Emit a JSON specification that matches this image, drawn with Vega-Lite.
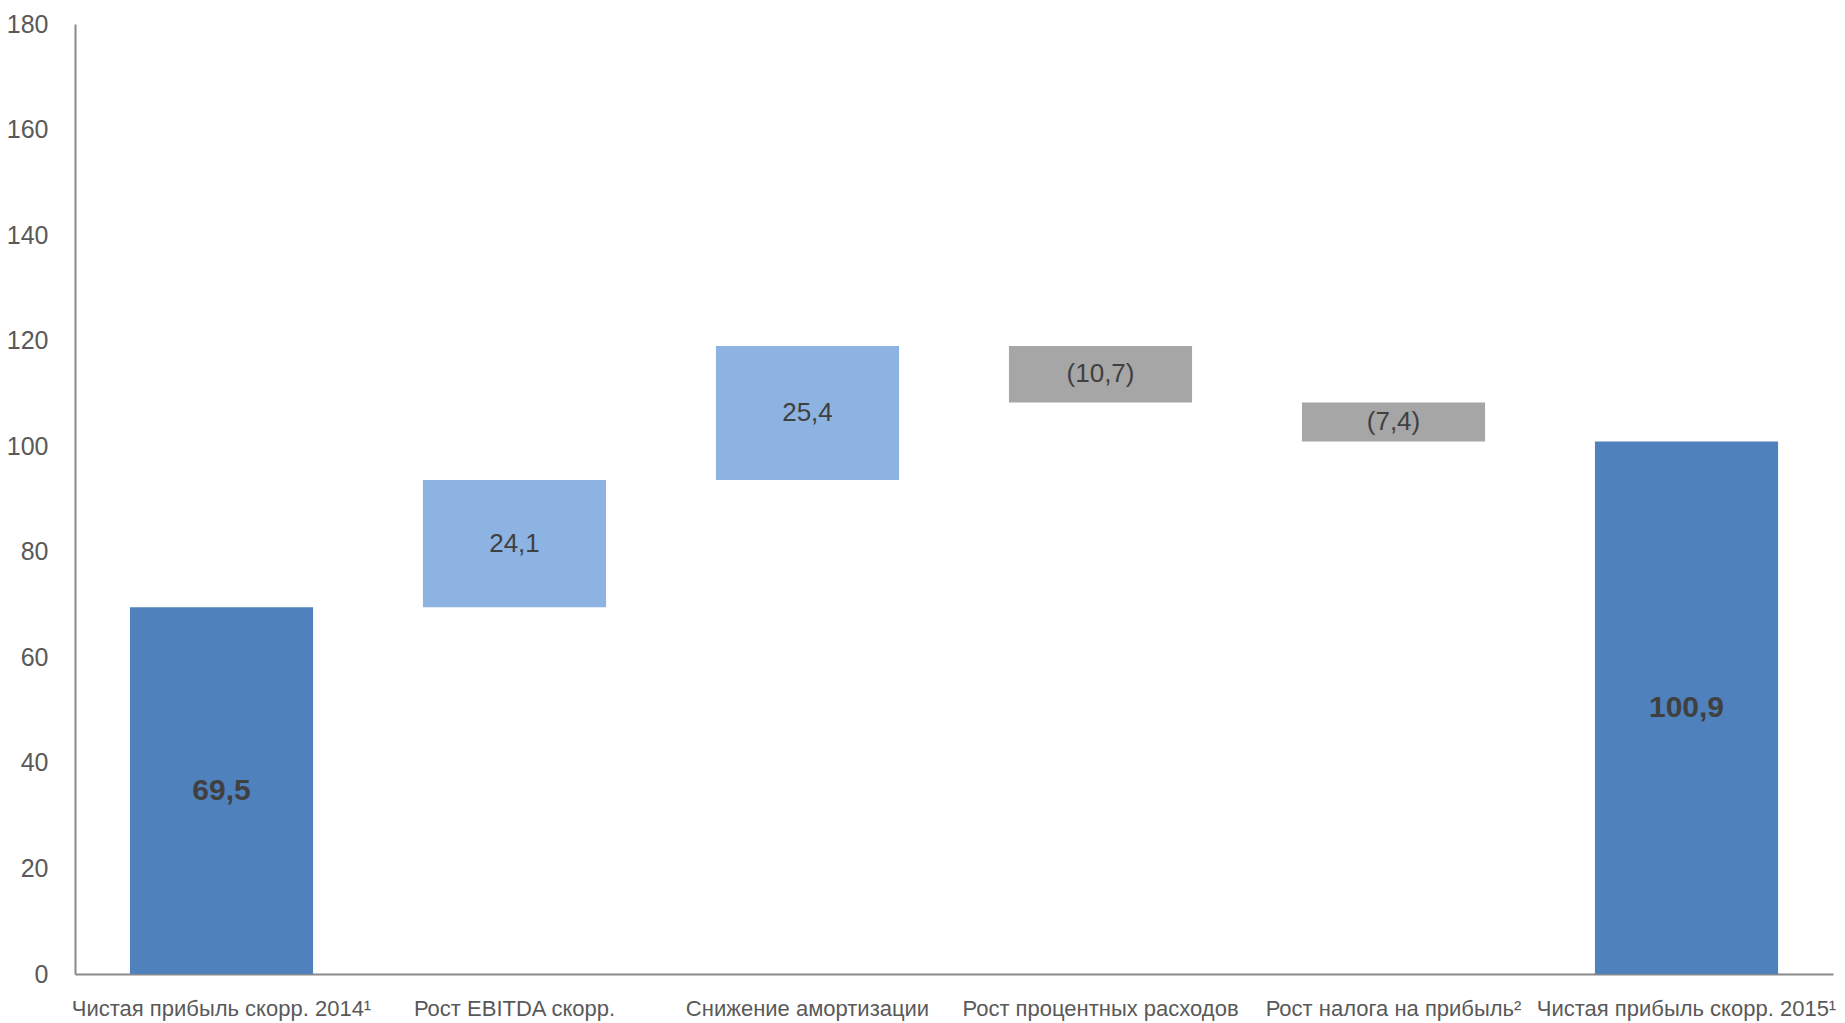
{
  "$schema": "https://vega.github.io/schema/vega-lite/v6.json",
  "width": 1758,
  "height": 950,
  "autosize": {"type": "none"},
  "padding": {"left": 75, "top": 24, "right": 12, "bottom": 49},
  "background": "white",
  "config": {
    "view": {"stroke": null},
    "font": "Liberation Sans, Arial, sans-serif"
  },
  "data": {
    "values": [
      {"category": "Чистая прибыль скорр. 2014¹", "start": 0, "end": 69.5, "label": "69,5", "kind": "total"},
      {"category": "Рост EBITDA скорр.", "start": 69.5, "end": 93.6, "label": "24,1", "kind": "increase"},
      {"category": "Снижение амортизации", "start": 93.6, "end": 119.0, "label": "25,4", "kind": "increase"},
      {"category": "Рост процентных расходов", "start": 119.0, "end": 108.3, "label": "(10,7)", "kind": "decrease"},
      {"category": "Рост налога на прибыль²", "start": 108.3, "end": 100.9, "label": "(7,4)", "kind": "decrease"},
      {"category": "Чистая прибыль скорр. 2015¹", "start": 0, "end": 100.9, "label": "100,9", "kind": "total"}
    ]
  },
  "encoding": {
    "x": {
      "field": "category",
      "type": "nominal",
      "sort": null,
      "scale": {"paddingInner": 0.375, "paddingOuter": 0.1875},
      "axis": {
        "title": null,
        "labelAngle": 0,
        "labelFontSize": 22,
        "labelColor": "#595959",
        "labelPadding": 24,
        "ticks": false,
        "domainColor": "#898989",
        "domainWidth": 2,
        "labelLimit": 0
      }
    }
  },
  "layer": [
    {
      "mark": {"type": "bar"},
      "encoding": {
        "y": {
          "field": "start",
          "type": "quantitative",
          "scale": {"domain": [0, 180], "nice": false},
          "axis": {
            "title": null,
            "values": [0, 20, 40, 60, 80, 100, 120, 140, 160, 180],
            "grid": false,
            "ticks": false,
            "labelFontSize": 25,
            "labelColor": "#595959",
            "labelPadding": 27,
            "domainColor": "#898989",
            "domainWidth": 2
          }
        },
        "y2": {"field": "end"},
        "color": {
          "field": "kind",
          "type": "nominal",
          "scale": {"domain": ["total", "increase", "decrease"], "range": ["#4F81BD", "#8DB3E2", "#A6A6A6"]},
          "legend": null
        }
      }
    },
    {
      "transform": [
        {"filter": "datum.kind !== 'total'"},
        {"calculate": "(datum.start + datum.end) / 2", "as": "mid"}
      ],
      "mark": {"type": "text", "fontSize": 26, "color": "#404040", "baseline": "middle"},
      "encoding": {
        "y": {"field": "mid", "type": "quantitative"},
        "text": {"field": "label"}
      }
    },
    {
      "transform": [
        {"filter": "datum.kind === 'total'"},
        {"calculate": "(datum.start + datum.end) / 2", "as": "mid"}
      ],
      "mark": {"type": "text", "fontSize": 30, "fontWeight": "bold", "color": "#404040", "baseline": "middle"},
      "encoding": {
        "y": {"field": "mid", "type": "quantitative"},
        "text": {"field": "label"}
      }
    }
  ]
}
